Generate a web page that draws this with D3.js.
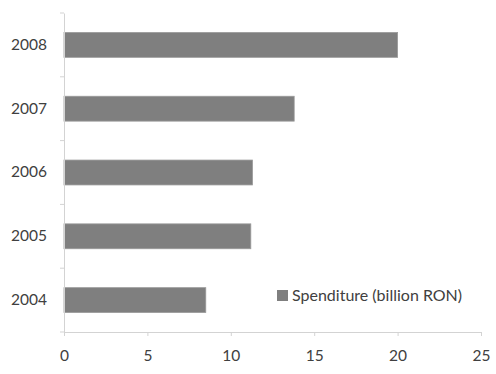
<!DOCTYPE html>
<html><head><meta charset="utf-8">
<script src="https://cdn.jsdelivr.net/npm/d3@7"></script>
<style>body{margin:0;background:#fff}svg{display:block}</style>
</head><body><svg id="c" width="496" height="374"></svg>
<script>
const years = ["2004","2005","2006","2007","2008"];
const spending = [8.5, 11.2, 11.3, 13.8, 20.0];
const xTicks = [0,5,10,15,20,25];
const seriesName = "Spenditure (billion RON)";

const svg = d3.select("#c");
const m = {l:64, t:13};
const x = d3.scaleLinear().domain([0,25]).range([m.l, 481]);
const y = d3.scaleBand().domain(years.slice().reverse()).range([m.t, 332]).paddingInner(0.61).paddingOuter(0.305);
const font = "Lato, 'Open Sans', sans-serif";
const axisCol = "#d3d3d3", textCol = "#404040";

// bars
svg.selectAll("rect.bar").data(years).enter().append("rect")
  .attr("x", x(0)).attr("y", d => y(d))
  .attr("width", (d,i) => x(spending[i]) - x(0))
  .attr("height", y.bandwidth())
  .attr("fill", "#7f7f7f").attr("stroke","#9a9a9a").attr("stroke-width",0.8);

// x axis
const gx = svg.append("g").attr("transform", "translate(0,332)")
  .call(d3.axisBottom(x).tickValues(xTicks).tickSize(4).tickPadding(14));
gx.select(".domain").attr("stroke", axisCol);
gx.selectAll(".tick line").attr("stroke", axisCol);
gx.selectAll("text").attr("fill", textCol).attr("font-family", font).attr("font-size", 15.5);

// y axis
const gy = svg.append("g").attr("transform", `translate(${m.l},0)`)
  .call(d3.axisLeft(y).tickSize(0).tickPadding(17));
gy.select(".domain").attr("stroke", axisCol);
gy.selectAll("text").attr("fill", textCol).attr("font-family", font).attr("font-size", 15.5);
// ticks at band boundaries
const bounds = d3.range(years.length + 1).map(i => y.range()[0] + i * (y.range()[1]-y.range()[0]) / years.length);
svg.selectAll("line.yt").data(bounds).enter().append("line")
  .attr("x1", m.l - 4).attr("x2", m.l).attr("y1", d => d).attr("y2", d => d)
  .attr("stroke", axisCol);

// legend
const lg = svg.append("g").attr("transform","translate(277,290)");
lg.append("rect").attr("width",11).attr("height",11).attr("fill","#7f7f7f");
lg.append("text").attr("x",15).attr("y",5.5).attr("dy","0.35em")
  .attr("fill",textCol).attr("font-family",font).attr("font-size",16).text(seriesName);
</script></body></html>
